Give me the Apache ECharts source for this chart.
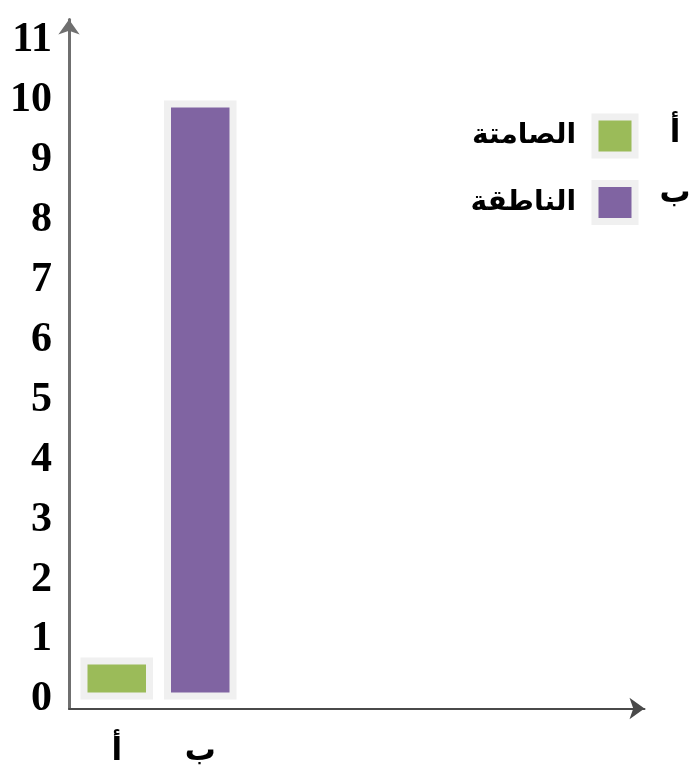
<!DOCTYPE html>
<html>
<head>
<meta charset="utf-8">
<script src="https://cdn.jsdelivr.net/npm/echarts@6/dist/echarts.min.js"></script>
<style>
  html, body { margin: 0; padding: 0; background: #ffffff; }
  #chart { width: 691px; height: 769px; }
</style>
</head>
<body>
<div id="chart"></div>
<script>
// ---- data ----
const categories = ['أ', 'ب'];
const seriesNames = ['الصامتة', 'الناطقة'];
const values = [0.7, 10];
const yTickLabels = [0, 1, 2, 3, 4, 5, 6, 7, 8, 9, 10, 11];

const barColors = ['#9bbb59', '#8064a2'];

const yMin = -0.15, yMax = 11.35;
const gridTop = 19.6, gridBottom = 60.5;

const series = seriesNames.map((name, i) => ({
  name: name,
  type: 'bar',
  xAxisIndex: 0,
  yAxisIndex: 0,
  barWidth: 72.5,
  barGap: '-100%',
  data: values.map((v, j) => (j === i ? v : null)),
  itemStyle: {
    color: barColors[i],
    borderColor: '#f0f0f0',
    borderWidth: 7
  },
  emphasis: { disabled: true },
  silent: true
}));

const chart = echarts.init(document.getElementById('chart'), null, { renderer: 'canvas' });
chart.setOption({
  animation: false,
  backgroundColor: '#ffffff',
  grid: [
    { left: 75, right: 449, top: gridTop, bottom: gridBottom, outerBoundsMode: 'none' },
    { left: 69, right: 46.5, top: gridTop, bottom: gridBottom, outerBoundsMode: 'none' }
  ],
  xAxis: [
    {
      type: 'category', gridIndex: 0, data: categories,
      axisLine: { show: false }, axisTick: { show: false },
      axisLabel: { margin: 28, fontSize: 31, fontWeight: 'bold', color: '#000', fontFamily: 'DejaVu Sans' }
    },
    {
      type: 'value', gridIndex: 1, min: 0, max: 1,
      axisLabel: { show: false }, axisTick: { show: false }, splitLine: { show: false },
      axisLine: { show: true, onZero: false, symbol: ['none', 'arrow'], symbolSize: [16, 15],
        lineStyle: { color: '#4a4a4a', width: 2 } }
    }
  ],
  yAxis: [
    {
      type: 'value', gridIndex: 0, min: yMin, max: yMax,
      axisLine: { show: false }, axisTick: { show: false }, axisLabel: { show: false }, splitLine: { show: false }
    },
    {
      type: 'value', gridIndex: 1, min: yMin, max: yMax,
      axisLine: { show: true, onZero: false, symbol: ['none', 'arrow'], symbolSize: [16, 15],
        lineStyle: { color: '#6f6f6f', width: 3 } },
      axisTick: { show: false },
      splitLine: { show: false },
      axisLabel: {
        customValues: yTickLabels,
        margin: 17,
        fontSize: 42,
        fontWeight: 'bold',
        fontFamily: 'Liberation Serif',
        color: '#000'
      }
    }
  ],
  legend: [
    {
      orient: 'vertical', align: 'right', right: 47.5, top: 108.5,
      itemWidth: 40, itemHeight: 38, itemGap: 21.5,
      icon: 'rect',
      selectedMode: false,
      data: seriesNames,
      itemStyle: { borderColor: '#f0f0f0', borderWidth: 7 },
      textStyle: { fontSize: 28, fontWeight: 'bold', fontFamily: 'DejaVu Sans', color: '#000', padding: [0, 14, 0, 0] }
    },
    {
      orient: 'vertical', align: 'left', left: 648, top: 110,
      itemWidth: 0, itemHeight: 38, itemGap: 21.5,
      icon: 'rect',
      selectedMode: false,
      data: seriesNames,
      itemStyle: { opacity: 0, borderWidth: 0 },
      formatter: name => '{c|' + categories[seriesNames.indexOf(name)] + '}',
      textStyle: {
        rich: { c: { fontSize: 31, fontWeight: 'bold', fontFamily: 'DejaVu Sans', color: '#000', width: 34, align: 'center' } }
      }
    }
  ],
  series: series
});
</script>
</body>
</html>
